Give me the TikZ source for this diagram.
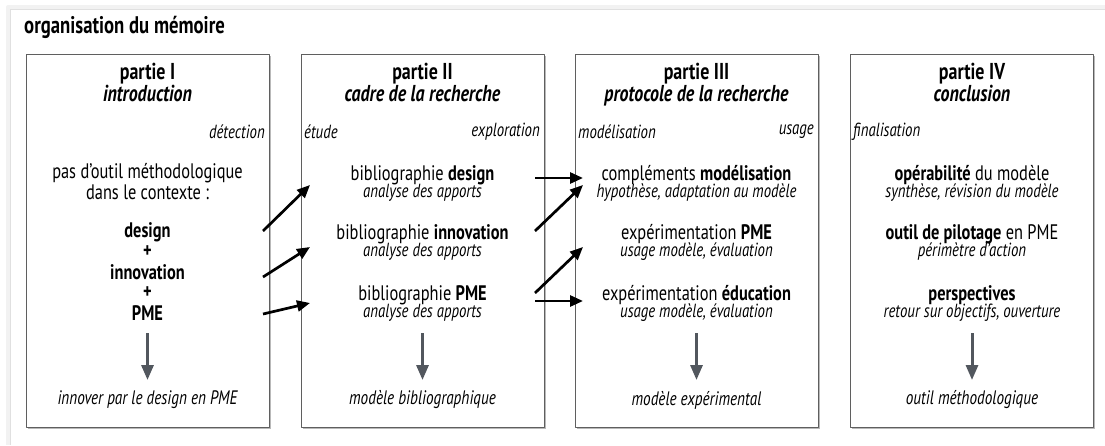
\documentclass[tikz,border=0pt]{standalone}
\usepackage{fontspec}
\setmainfont{PT Sans}[FakeStretch=0.78]
\usetikzlibrary{arrows.meta,shadows}
\definecolor{gristrait}{RGB}{95,95,95}
\definecolor{grisfleche}{RGB}{82,87,94}
\tikzset{
  partie/.style={draw=gristrait,line width=0.9pt,fill=white,minimum width=243pt,minimum height=373pt,
    drop shadow={shadow xshift=1.6pt,shadow yshift=-1.6pt,fill=black!55}},
  titre/.style={font=\fontsize{23}{18}\selectfont\bfseries,align=center,anchor=north,inner sep=0pt},
  etape/.style={font=\fontsize{19}{21}\selectfont\itshape,inner sep=0pt},
  ligne/.style={font=\fontsize{21}{23}\selectfont,inner sep=0pt},
  gras/.style={font=\fontsize{21}{23}\selectfont\bfseries,inner sep=0pt},
  note/.style={font=\fontsize{19}{21}\selectfont\itshape,inner sep=0pt},
  bilantxt/.style={font=\fontsize{19.5}{22}\selectfont\itshape,inner sep=0pt},
  lien/.style={line width=2.7pt,-{Triangle[width=11pt,length=13pt]}},
  bilan/.style={line width=3pt,grisfleche,shorten <=20pt,shorten >=20pt,-{Triangle[width=12pt,length=15pt]}}
}
\begin{document}
\begin{tikzpicture}[x=1pt,y=-1pt,line join=round]
  \useasboundingbox (0,0) rectangle (1105,445);
  % bord de page
  \draw[black!5,line width=4pt] (8,445) -- (8,7) -- (1105,7);
  \draw[black!12,line width=1.5pt] (10.5,445) -- (10.5,9.5) -- (1105,9.5);
  \node[anchor=west,font=\fontsize{24}{26}\selectfont\bfseries,inner sep=0pt] (memoire) at (24,27) {organisation du mémoire};
  % cadres
  \node[partie] (pI) at (147.5,240.5) {};
  \node[partie] (pII) at (422.5,240.5) {};
  \node[partie] (pIII) at (696.5,240.5) {};
  \node[partie] (pIV) at (972,240.5) {};
  % partie I
  \node[titre] (tI) at (147.5,63) {partie I\\\textit{introduction}};
  \node[etape,anchor=east] (eI) at (265,132) {détection};
  \node[ligne] (pasI) at (147.5,173) {pas d’outil méthodologique};
  \node[ligne] (ctxI) at (147.5,192) {dans le contexte :};
  \node[gras] (desI) at (147.5,232) {design};
  \node[gras] (plusIa) at (147.5,252) {+};
  \node[gras] (innI) at (147.5,272) {innovation};
  \node[gras] (plusIb) at (147.5,293) {+};
  \node[gras] (pmeI) at (147.5,313) {PME};
  \node[bilantxt] (finI) at (147.5,400) {innover par le design en PME};
  % partie II
  \node[titre] (tII) at (422.5,63) {partie II\\\textit{cadre de la recherche}};
  \node[etape,anchor=west] (eIIa) at (304,132) {étude};
  \node[etape,anchor=east] (eIIb) at (540,132) {exploration};
  \node[ligne] (desII) at (422.5,175) {bibliographie \textbf{design}};
  \node[note] (desIIn) at (422.5,193) {analyse des apports};
  \node[ligne] (innII) at (422.5,234) {bibliographie \textbf{innovation}};
  \node[note] (innIIn) at (422.5,252) {analyse des apports};
  \node[ligne] (pmeII) at (422.5,295) {bibliographie \textbf{PME}};
  \node[note] (pmeIIn) at (422.5,313) {analyse des apports};
  \node[bilantxt] (finII) at (422.5,400) {modèle bibliographique};
  % partie III
  \node[titre] (tIII) at (696.5,63) {partie III\\\textit{protocole de la recherche}};
  \node[etape,anchor=west] (eIIIa) at (578,132) {modélisation};
  \node[etape,anchor=east] (eIIIb) at (814,132) {usage};
  \node[ligne] (modIII) at (696.5,175) {compléments \textbf{modélisation}};
  \node[note] (modIIIn) at (696.5,193) {hypothèse, adaptation au modèle};
  \node[ligne] (pmeIII) at (696.5,234) {expérimentation \textbf{PME}};
  \node[note] (pmeIIIn) at (696.5,252) {usage modèle, évaluation};
  \node[ligne] (eduIII) at (696.5,295) {expérimentation \textbf{éducation}};
  \node[note] (eduIIIn) at (696.5,313) {usage modèle, évaluation};
  \node[bilantxt] (finIII) at (696.5,400) {modèle expérimental};
  % partie IV
  \node[titre] (tIV) at (972,63) {partie IV\\\textit{conclusion}};
  \node[etape,anchor=west] (eIV) at (853,132) {finalisation};
  \node[ligne] (opeIV) at (972,175) {\textbf{opérabilité} du modèle};
  \node[note] (opeIVn) at (972,193) {synthèse, révision du modèle};
  \node[ligne] (pilIV) at (972,234) {\textbf{outil de pilotage} en PME};
  \node[note] (pilIVn) at (972,252) {périmètre d’action};
  \node[gras] (perIV) at (972,295) {perspectives};
  \node[note] (perIVn) at (972,313) {retour sur objectifs, ouverture};
  \node[bilantxt] (finIV) at (972,400) {outil méthodologique};
  % liens entre parties
  \coordinate (dI1) at (263,231);
  \coordinate (aII1) at (310,185);
  \coordinate (dI2) at (263,277);
  \coordinate (aII2) at (310,247);
  \coordinate (dI3) at (263,314);
  \coordinate (aII3) at (310,303);
  \coordinate (dII1) at (535,178);
  \coordinate (aIII1) at (583,178);
  \coordinate (dII2) at (535,231);
  \coordinate (aIII2) at (583,185);
  \coordinate (dII3) at (535,293);
  \coordinate (aIII3) at (583,247);
  \coordinate (dII4) at (535,301);
  \coordinate (aIII4) at (583,301);
  \draw[lien] (dI1) -- (aII1);
  \draw[lien] (dI2) -- (aII2);
  \draw[lien] (dI3) -- (aII3);
  \draw[lien] (dII1) -- (aIII1);
  \draw[lien] (dII2) -- (aIII2);
  \draw[lien] (dII3) -- (aIII3);
  \draw[lien] (dII4) -- (aIII4);
  % fleches de bilan
  \draw[bilan] (pmeI.center) -- (finI.center);
  \draw[bilan] (pmeIIn.center) -- (finII.center);
  \draw[bilan] (eduIIIn.center) -- (finIII.center);
  \draw[bilan] (perIVn.center) -- (finIV.center);
\end{tikzpicture}
\end{document}
